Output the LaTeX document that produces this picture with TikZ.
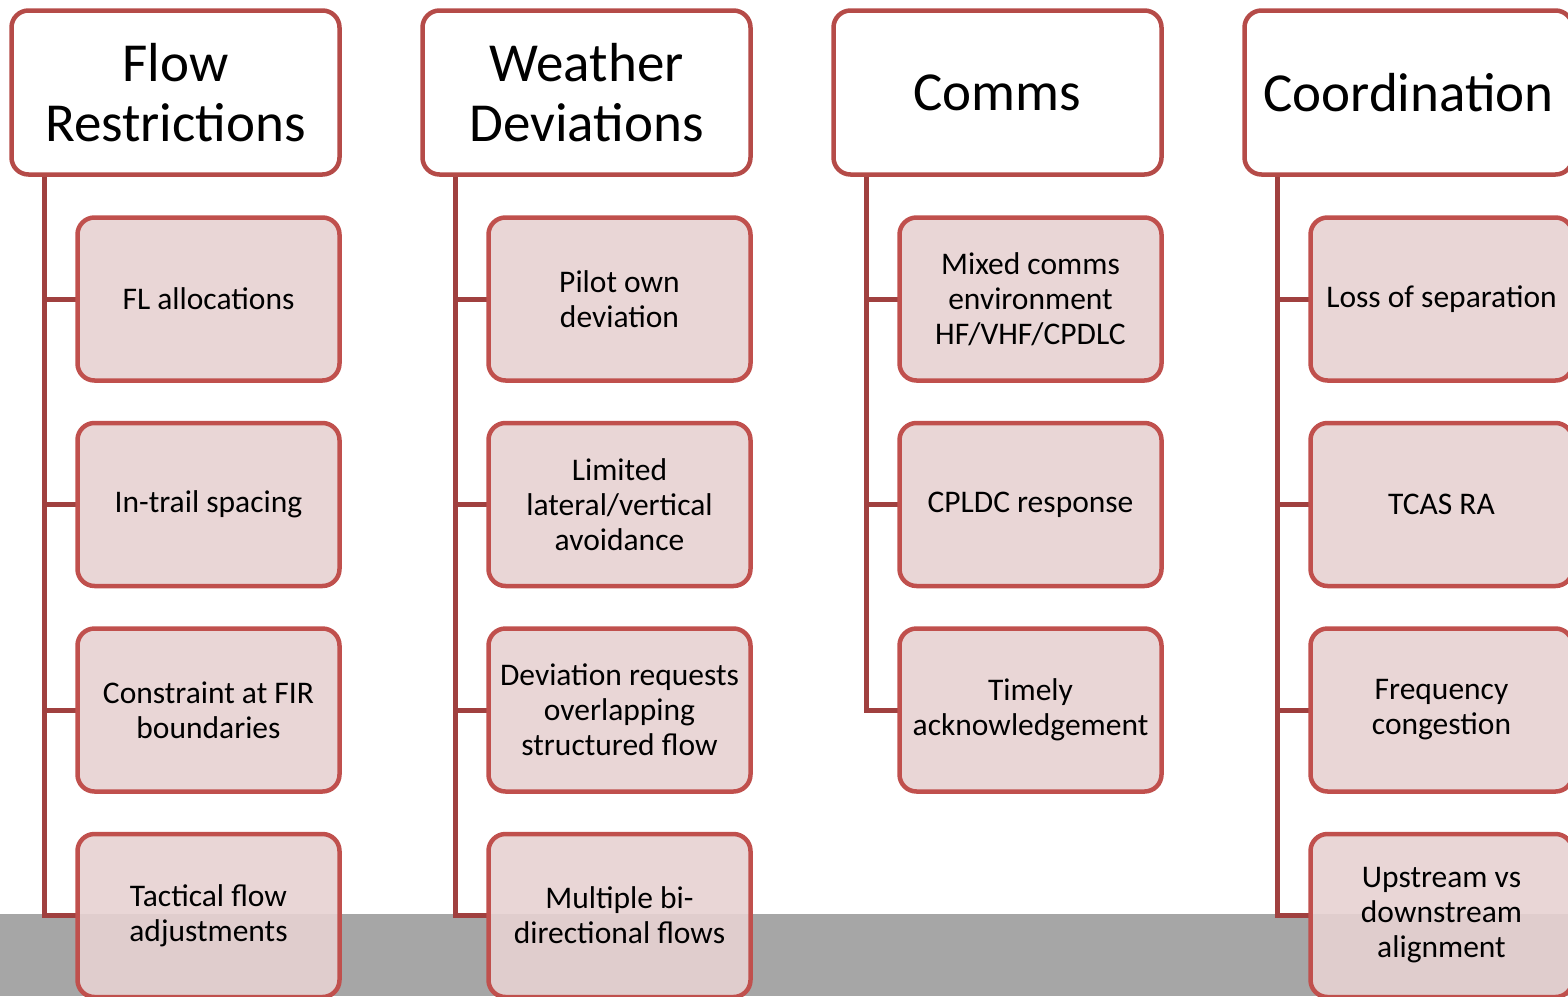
\documentclass[tikz,border=0pt]{standalone}
\usepackage{fontspec}
\setmainfont{Carlito}
\usetikzlibrary{backgrounds,calc}
\definecolor{hdrline}{HTML}{B54B48}
\definecolor{boxline}{HTML}{C0504D}
\definecolor{boxfill}{RGB}{231,210,210}
\definecolor{connline}{HTML}{A0403F}
\definecolor{bandgray}{HTML}{A6A6A6}
\tikzset{
  header/.style={draw=hdrline, line width=4.5pt, rounded corners=17pt, fill=white,
    minimum width=328pt, minimum height=164pt, inner sep=0pt, outer sep=0pt, align=center,
    font=\fontsize{55}{60}\selectfont},
  item/.style={draw=boxline, line width=4.5pt, rounded corners=17pt, fill=boxfill, fill opacity=0.9, text opacity=1,
    minimum width=262pt, minimum height=163pt, inner sep=0pt, outer sep=0pt, align=center,
    font=\fontsize{31.5}{35}\selectfont},
  conn/.style={draw=connline, line width=5pt},
  band/.style={fill=bandgray}
}
\begin{document}
\begin{tikzpicture}[x=1pt,y=-1pt]
\useasboundingbox (0,0) rectangle (1568,996);
\clip (0,0) rectangle (1568,996);
% headers
\node[header] (h1) at (175.5,92.5) {Flow\\Restrictions};
\node[header] (h2) at (586.5,92.5) {Weather\\Deviations};
\node[header] (h3) at (997.5,92.5) {Comms};
\node[header] (h4) at (1408.5,92.5) {Coordination};
% column 1
\node[item] (c11) at (208.5,299) {FL allocations};
\node[item] (c12) at (208.5,504.5) {In-trail spacing};
\node[item] (c13) at (208.5,710) {Constraint at FIR\\boundaries};
\node[item] (c14) at (208.5,915.5) {Tactical flow\\adjustments};
% column 2
\node[item] (c21) at (619.5,299) {Pilot own\\deviation};
\node[item] (c22) at (619.5,504.5) {Limited\\lateral/vertical\\avoidance};
\node[item] (c23) at (619.5,710) {Deviation requests\\overlapping\\structured flow};
\node[item] (c24) at (619.5,915.5) {Multiple bi-\\directional flows};
% column 3
\node[item] (c31) at (1030.5,299) {Mixed comms\\environment\\HF/VHF/CPDLC};
\node[item] (c32) at (1030.5,504.5) {CPLDC response};
\node[item] (c33) at (1030.5,710) {Timely\\acknowledgement};
% column 4
\node[item] (c41) at (1441.5,299) {Loss of separation};
\node[item] (c42) at (1441.5,504.5) {TCAS RA};
\node[item] (c43) at (1441.5,710) {Frequency\\congestion};
\node[item] (c44) at (1441.5,915.5) {Upstream vs\\downstream\\alignment};
\begin{scope}[on background layer]
  \fill[band] (0,914) rectangle (1568,996);
  \coordinate (r1) at ($(h1.south west)+(32.5,0)$);
  \coordinate (r2) at ($(h2.south west)+(32.5,0)$);
  \coordinate (r3) at ($(h3.south west)+(32.5,0)$);
  \coordinate (r4) at ($(h4.south west)+(32.5,0)$);
  \foreach \c in {c11,c12,c13,c14} \draw[conn] (r1) |- (\c.west);
  \foreach \c in {c21,c22,c23,c24} \draw[conn] (r2) |- (\c.west);
  \foreach \c in {c31,c32,c33} \draw[conn] (r3) |- (\c.west);
  \foreach \c in {c41,c42,c43,c44} \draw[conn] (r4) |- (\c.west);
\end{scope}
\end{tikzpicture}
\end{document}
